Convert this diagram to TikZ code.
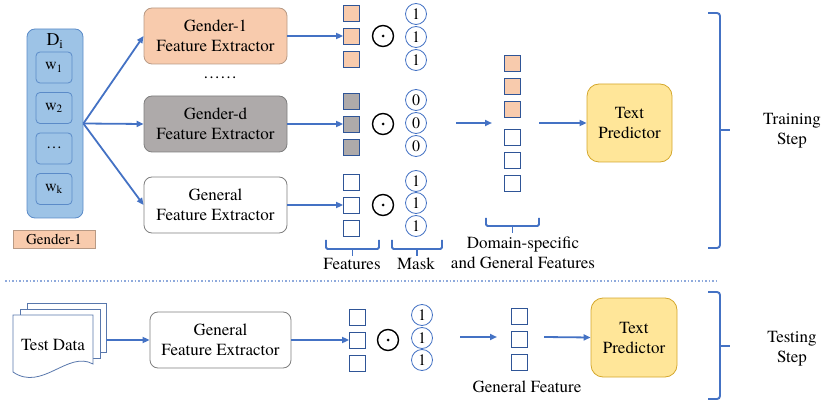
\documentclass[tikz,border=0pt]{standalone}
\usepackage{fontspec}
\setmainfont{texgyretermes}[Extension=.otf, UprightFont=*-regular, BoldFont=*-bold, ItalicFont=*-italic, BoldItalicFont=*-bolditalic]
\usetikzlibrary{arrows.meta}
\definecolor{ablue}{HTML}{4472C4}
\definecolor{sqblue}{HTML}{2F5597}
\definecolor{dblue}{HTML}{9DC3E6}
\definecolor{dbord}{HTML}{5B8BC8}
\definecolor{peach}{HTML}{F8CBAD}
\definecolor{peachb}{HTML}{B89A85}
\definecolor{gfill}{HTML}{AEAAAA}
\definecolor{gbord}{HTML}{7F7F7F}
\definecolor{yfill}{HTML}{FFE699}
\definecolor{ybord}{HTML}{D4A72C}
\definecolor{dotc}{HTML}{8FAADC}
\begin{document}
\begin{tikzpicture}[x=1pt,y=-1pt,
  txt/.style={font=\fontsize{17}{20}\selectfont, align=center, inner sep=0},
  fx/.style={rounded corners=8pt, minimum width=143, minimum height=56, font=\fontsize{17}{20}\selectfont, align=center, line width=0.8, inner sep=0},
  sq/.style={draw=sqblue, fill=white, minimum size=16, inner sep=0, line width=0.8},
  mk/.style={circle, draw=ablue, fill=white, minimum size=21, inner sep=0, line width=0.8, font=\fontsize{16}{16}\selectfont},
  arr/.style={-{Triangle[length=7,width=6]}, ablue, line width=1.8},
  brc/.style={ablue, line width=1.9, rounded corners=1.5pt},
  wbox/.style={draw=dbord, rounded corners=4pt, minimum width=36, minimum height=31, inner sep=0, line width=0.8, font=\fontsize{16}{18}\selectfont},
  od/.style={circle, draw=black, minimum size=21, inner sep=0, line width=1.4}
]
\useasboundingbox (0,0) rectangle (821,403);

% Di box
\node[draw=dbord, fill=dblue, rounded corners=8pt, minimum width=56, minimum height=189, line width=0.8] (Di) at (55,123.5) {};
\node[txt, font=\fontsize{18}{20}\selectfont] (Dl) at (55,41) {D\textsubscript{i}};
\node[wbox] (w1) at (54,67.5) {w\textsubscript{1}};
\node[wbox] (w2) at (54,108) {w\textsubscript{2}};
\node[wbox] (w3) at (54,148.5) {\raisebox{2pt}{\dots}};
\node[wbox] (wk) at (54,189) {w\textsubscript{k}};
\node[draw=peachb, fill=peach, minimum width=82, minimum height=18, inner sep=0, line width=0.6, font=\fontsize{15}{16}\selectfont] (glab) at (54,239) {Gender-1};

% extractors
\node[fx, draw=peachb, fill=peach] (g1) at (215.5,36) {Gender-1\\Feature Extractor};
\node[txt] (dots) at (220,78) {\dots\dots};
\node[fx, draw=gbord, fill=gfill] (gd) at (215.5,124) {Gender-d\\Feature Extractor};
\node[fx, draw=gbord, fill=white] (gen) at (215.5,205) {General\\Feature Extractor};

\draw[arr] (Di.east) -- (g1.west);
\draw[arr] (Di.east) -- (gd.west);
\draw[arr] (Di.east) -- (gen.west);

% feature squares
\node[sq, fill=peach] (f11) at (351.5,13) {};
\node[sq, fill=peach] (f12) at (351.5,36) {};
\node[sq, fill=peach] (f13) at (351.5,59) {};
\node[sq, fill=gfill] (fd1) at (351.5,101) {};
\node[sq, fill=gfill] (fd2) at (351.5,124) {};
\node[sq, fill=gfill] (fd3) at (351.5,147) {};
\node[sq] (fg1) at (351.5,182) {};
\node[sq] (fg2) at (351.5,205) {};
\node[sq] (fg3) at (351.5,228) {};

\draw[arr] (g1.east) -- (f12.west);
\draw[arr] (gd.east) -- (fd2.west);
\draw[arr] (gen.east) -- (fg2.west);

% odot
\foreach \n/\y in {o1/36, od/124, og/205}{
  \node[od] (\n) at (383,\y) {};
  \fill (\n.center) circle (1.5);
}

% masks
\node[mk] (m11) at (416,14) {1};
\node[mk] (m12) at (416,37) {1};
\node[mk] (m13) at (416,60) {1};
\node[mk] (md1) at (416,100) {0};
\node[mk] (md2) at (416,123) {0};
\node[mk] (md3) at (416,146) {0};
\node[mk] (mg1) at (416,181) {1};
\node[mk] (mg2) at (416,203) {1};
\node[mk] (mg3) at (416,226) {1};

% braces under features and mask
\draw[brc] (326,240) -- (326,249) -- (379,249) -- (379,240);
\draw[brc] (352.5,249) -- (352.5,256);
\node[txt] (featl) at (352,264) {Features};
\draw[brc] (392,240) -- (392,249) -- (442,249) -- (442,240);
\draw[brc] (417,249) -- (417,256);
\node[txt] (maskl) at (416,264) {Mask};

% combined
\coordinate (ca) at (456,123);
\coordinate (cb) at (492,123);
\draw[arr] (ca) -- (cb);
\node[sq, fill=peach] (c1) at (512.5,63.5) {};
\node[sq, fill=peach] (c2) at (512.5,86.5) {};
\node[sq, fill=peach] (c3) at (512.5,109.5) {};
\node[sq] (c4) at (512.5,137) {};
\node[sq] (c5) at (512.5,160) {};
\node[sq] (c6) at (512.5,183) {};
\coordinate (cc) at (539,123);
\node[draw=ybord, fill=yfill, rounded corners=12pt, minimum width=85, minimum height=78, line width=0.8, txt, inner sep=0] (tp1) at (629.5,123) {Text\\Predictor};
\draw[arr] (cc) -- (tp1.west);
\draw[brc] (486,218) -- (486,226) -- (539,226) -- (539,218);
\draw[brc] (512.5,226) -- (512.5,233);
\node[txt] (dsl) at (523,253) {Domain-specific\\and General Features};

% training brace
\draw[brc, rounded corners=3pt] (708,13) -- (720,13) -- (720,248) -- (708,248);
\draw[brc] (720,130) -- (730,130);
\node[txt] (trl) at (792,131) {Training\\Step};

% dotted separator
\coordinate (s1) at (5,281);
\coordinate (s2) at (717,281);
\draw[dotc, line width=1.3, dash pattern=on 1.5pt off 2pt] (s1) -- (s2);

% testing
\draw[sqblue!80, fill=white, line width=0.8] (27,303) -- (106,303) -- (106,352) -- (27,352) -- cycle;
\draw[sqblue!80, fill=white, line width=0.8] (20,309) -- (100,309) -- (100,358) -- (20,358) -- cycle;
\draw[sqblue!80, fill=white, line width=0.8] (13,315) -- (93,315) -- (93,364) .. controls (68,350) and (42,392) .. (13,372) -- cycle;
\node[txt] (td) at (53,345) {Test Data};
\coordinate (tdr) at (106,340);
\node[fx, draw=gbord, fill=white, minimum width=141] (gen2) at (220.5,340) {General\\Feature Extractor};
\draw[arr] (tdr) -- (gen2.west);
\node[sq] (t1) at (357.5,317) {};
\node[sq] (t2) at (357.5,340) {};
\node[sq] (t3) at (357.5,363) {};
\draw[arr] (gen2.east) -- (t2.west);
\node[od] (ot) at (388,340) {};
\fill (ot.center) circle (1.5);
\node[mk] (mt1) at (422,315) {1};
\node[mk] (mt2) at (422,338) {1};
\node[mk] (mt3) at (422,360) {1};
\coordinate (ta) at (460,337);
\coordinate (tb) at (497,337);
\draw[arr] (ta) -- (tb);
\node[sq] (u1) at (519.5,316) {};
\node[sq] (u2) at (519.5,339) {};
\node[sq] (u3) at (519.5,362) {};
\node[txt] (gfl) at (527,387) {General Feature};
\node[draw=ybord, fill=yfill, rounded corners=12pt, minimum width=86, minimum height=79, line width=0.8, txt, inner sep=0] (tp2) at (634,337.5) {Text\\Predictor};
\coordinate (tc) at (544,337);
\draw[arr] (tc) -- (tp2.west);
\draw[brc, rounded corners=3pt] (708,292) -- (720,292) -- (720,399) -- (708,399);
\draw[brc] (720,346) -- (730,346);
\node[txt] (tsl) at (792,349) {Testing\\Step};
\end{tikzpicture}
\end{document}
